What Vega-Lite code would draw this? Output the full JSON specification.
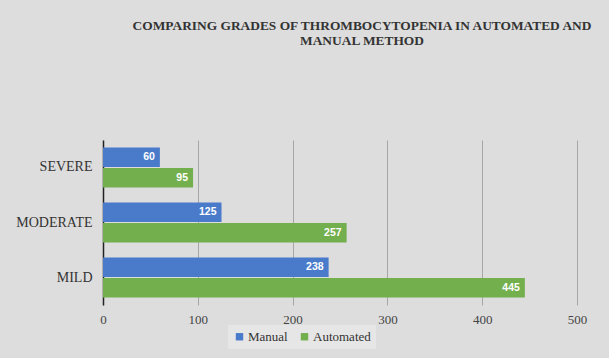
{
  "$schema": "https://vega.github.io/schema/vega-lite/v6.json",
  "width": 474,
  "height": 165,
  "autosize": "none",
  "padding": {"left": 103, "top": 140, "right": 32, "bottom": 53},
  "background": "#dddddd",
  "title": {
    "text": ["COMPARING GRADES OF THROMBOCYTOPENIA IN AUTOMATED AND", "MANUAL METHOD"],
    "font": "Liberation Serif",
    "fontSize": 13.4,
    "fontWeight": "bold",
    "color": "#333333",
    "anchor": "middle",
    "offset": 93,
    "dx": 22,
    "lineHeight": 15
  },
  "data": {
    "values": [
      {"grade": "SEVERE", "method": "Manual", "count": 60},
      {"grade": "SEVERE", "method": "Automated", "count": 95},
      {"grade": "MODERATE", "method": "Manual", "count": 125},
      {"grade": "MODERATE", "method": "Automated", "count": 257},
      {"grade": "MILD", "method": "Manual", "count": 238},
      {"grade": "MILD", "method": "Automated", "count": 445}
    ]
  },
  "encoding": {
    "y": {
      "field": "grade",
      "type": "nominal",
      "sort": ["SEVERE", "MODERATE", "MILD"],
      "scale": {"paddingInner": 0.273, "paddingOuter": 0.136},
      "axis": {
        "title": null,
        "ticks": false,
        "labelFont": "Liberation Serif",
        "labelFontSize": 14,
        "labelColor": "#333333",
        "labelPadding": 11,
        "domainColor": "#222222",
        "domainWidth": 1.5,
        "grid": false
      }
    },
    "yOffset": {
      "field": "method",
      "type": "nominal",
      "sort": ["Manual", "Automated"],
      "scale": {"paddingInner": 0.05}
    },
    "x": {
      "field": "count",
      "type": "quantitative",
      "scale": {"domain": [0, 500]},
      "axis": {
        "title": null,
        "values": [0, 100, 200, 300, 400, 500],
        "ticks": false,
        "domain": false,
        "grid": true,
        "gridColor": "#a6a6a6",
        "labelFlush": false,
        "labelFont": "Liberation Serif",
        "labelFontSize": 13,
        "labelColor": "#444444",
        "labelPadding": 8
      }
    }
  },
  "layer": [
    {
      "mark": {"type": "bar"},
      "encoding": {
        "color": {
          "field": "method",
          "type": "nominal",
          "scale": {"domain": ["Manual", "Automated"], "range": ["#4a7bcb", "#74af4e"]},
          "legend": {
            "title": null,
            "orient": "none",
            "direction": "horizontal",
            "legendX": 125,
            "legendY": 185,
            "symbolType": "square",
            "symbolSize": 55,
            "symbolStrokeWidth": 0,
            "labelFont": "Liberation Serif",
            "labelFontSize": 13,
            "labelColor": "#333333",
            "labelOffset": 2,
            "columnPadding": 10,
            "fillColor": "#e6e6e6",
            "padding": 5
          }
        }
      }
    },
    {
      "mark": {
        "type": "text",
        "align": "right",
        "dx": -5,
        "color": "white",
        "font": "Liberation Sans",
        "fontWeight": "bold",
        "fontSize": 10.5
      },
      "encoding": {
        "text": {"field": "count", "type": "quantitative"}
      }
    }
  ],
  "config": {"view": {"stroke": null}}
}
